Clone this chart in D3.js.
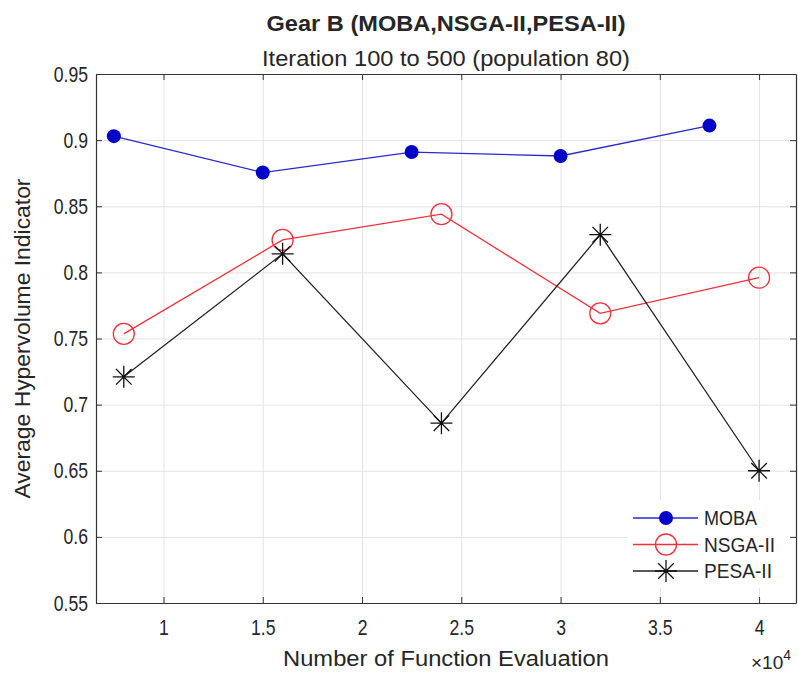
<!DOCTYPE html>
<html>
<head>
<meta charset="utf-8">
<script src="https://cdn.jsdelivr.net/npm/d3@7"></script>
<style>
  body { margin: 0; background: #fff; }
  svg text { font-family: "Liberation Sans", Arial, sans-serif; fill: #262626; }
</style>
</head>
<body>
<div class="chart"></div>
<script>
// data (x in units of 10^4 function evaluations)
var evalsMOBA = [0.75, 1.5, 2.25, 3.0, 3.75];
var evalsOther = [0.8, 1.6, 2.4, 3.2, 4.0];
var hvMOBA = [0.903, 0.8755, 0.891, 0.888, 0.911];
var hvNSGA = [0.7535, 0.8245, 0.844, 0.769, 0.796];
var hvPESA = [0.721, 0.814, 0.686, 0.8285, 0.650];
var seriesNames = ["MOBA", "NSGA-II", "PESA-II"];
var xTicks = [1, 1.5, 2, 2.5, 3, 3.5, 4];
var yTicks = [0.55, 0.6, 0.65, 0.7, 0.75, 0.8, 0.85, 0.9, 0.95];

var W = 798, H = 673;
var mLeft = 96, mRight = 796, mTop = 74, mBottom = 603;
var squeeze = 0.8;   // text in the picture is narrow

var svg = d3.select(".chart")
   .append("svg")
   .attr("width", W)
   .attr("height", H);

var x = d3.scaleLinear().domain([0.66, 4.186]).range([mLeft, mRight]);
var y = d3.scaleLinear().domain([0.55, 0.95]).range([mBottom, mTop]);

// grid
svg.append("g")
   .attr("transform", "translate(0," + mBottom + ")")
   .call(d3.axisBottom(x).tickValues(xTicks).tickSize(-(mBottom - mTop)).tickFormat(""))
   .call(function(g){ g.select(".domain").remove(); g.selectAll("line").attr("stroke", "#e3e3e3"); });
svg.append("g")
   .attr("transform", "translate(" + mLeft + ",0)")
   .call(d3.axisLeft(y).tickValues(yTicks).tickSize(-(mRight - mLeft)).tickFormat(""))
   .call(function(g){ g.select(".domain").remove(); g.selectAll("line").attr("stroke", "#e3e3e3"); });

// axes (ticks inward, all four sides)
var axisColor = "#333";
function styleAxis(g){
  g.select(".domain").attr("stroke", axisColor).attr("stroke-width", 1.2);
  g.selectAll(".tick line").attr("stroke", axisColor);
  g.selectAll(".tick text").attr("fill", "#262626").style("font-size", "22px")
   .attr("transform", "scale(" + squeeze + ",1)");
}
svg.append("g")
   .attr("transform", "translate(0," + mBottom + ")")
   .call(d3.axisBottom(x).tickValues(xTicks).tickSizeInner(-6).tickSizeOuter(0).tickPadding(16)
        .tickFormat(d3.format("")))
   .call(styleAxis);
svg.append("g")
   .attr("transform", "translate(0," + mTop + ")")
   .call(d3.axisTop(x).tickValues(xTicks).tickSizeInner(-6).tickSizeOuter(0).tickFormat(""))
   .call(styleAxis);
svg.append("g")
   .attr("transform", "translate(" + mLeft + ",0)")
   .call(d3.axisLeft(y).tickValues(yTicks).tickSizeInner(-6).tickSizeOuter(0).tickPadding(8)
        .tickFormat(function(d){ return String(+d.toFixed(2)); }))
   .call(styleAxis);
svg.append("g")
   .attr("transform", "translate(" + mRight + ",0)")
   .call(d3.axisRight(y).tickValues(yTicks).tickSizeInner(-6).tickSizeOuter(0).tickFormat(""))
   .call(styleAxis);

// tick labels are squeezed horizontally, so undo the scale on their x position
svg.selectAll(".tick text").each(function(){
  var t = d3.select(this);
  t.attr("x", (+t.attr("x") || 0) / squeeze);
});

// series
var line = d3.line().x(function(d){ return x(d[0]); }).y(function(d){ return y(d[1]); });
var mobaPts = d3.zip(evalsMOBA, hvMOBA);
var nsgaPts = d3.zip(evalsOther, hvNSGA);
var pesaPts = d3.zip(evalsOther, hvPESA);

svg.append("path").datum(mobaPts).attr("d", line)
   .attr("fill", "none").attr("stroke", "#2a2ad0").attr("stroke-width", 1.3);
svg.append("path").datum(nsgaPts).attr("d", line)
   .attr("fill", "none").attr("stroke", "#f0303a").attr("stroke-width", 1.3);
svg.append("path").datum(pesaPts).attr("d", line)
   .attr("fill", "none").attr("stroke", "#222").attr("stroke-width", 1.3);

function asterisk(s){
  var d = s * 0.707;
  return "M" + (-s) + ",0L" + s + ",0M0," + (-s) + "L0," + s +
         "M" + (-d) + "," + (-d) + "L" + d + "," + d +
         "M" + (-d) + "," + d + "L" + d + "," + (-d);
}

svg.selectAll(".moba").data(mobaPts).enter().append("circle")
   .attr("cx", function(d){ return x(d[0]); }).attr("cy", function(d){ return y(d[1]); })
   .attr("r", 7).attr("fill", "#0000c8");
svg.selectAll(".nsga").data(nsgaPts).enter().append("circle")
   .attr("cx", function(d){ return x(d[0]); }).attr("cy", function(d){ return y(d[1]); })
   .attr("r", 10.5).attr("fill", "none").attr("stroke", "#f0303a").attr("stroke-width", 1.3);
svg.selectAll(".pesa").data(pesaPts).enter().append("path")
   .attr("transform", function(d){ return "translate(" + x(d[0]) + "," + y(d[1]) + ")"; })
   .attr("d", asterisk(11)).attr("fill", "none").attr("stroke", "#111").attr("stroke-width", 1.3);

// legend
var lg = svg.append("g").attr("transform", "translate(628,500)");
lg.append("rect").attr("width", 162).attr("height", 88).attr("fill", "#fff");
var legColors = ["#2a2ad0", "#f0303a", "#222"];
var legWidths = [53, 71, 68];
seriesNames.forEach(function(name, i){
  var yy = 18 + i * 26.5;
  lg.append("line").attr("x1", 5).attr("x2", 70).attr("y1", yy).attr("y2", yy)
    .attr("stroke", legColors[i]).attr("stroke-width", 1.3);
  if (i == 0) lg.append("circle").attr("cx", 38).attr("cy", yy).attr("r", 7).attr("fill", "#0000c8");
  else if (i == 1) lg.append("circle").attr("cx", 38).attr("cy", yy).attr("r", 10.5)
    .attr("fill", "none").attr("stroke", "#f0303a").attr("stroke-width", 1.3);
  else lg.append("path").attr("transform", "translate(38," + yy + ")").attr("d", asterisk(11))
    .attr("fill", "none").attr("stroke", "#111").attr("stroke-width", 1.3);
  lg.append("text").attr("x", 76).attr("y", yy + 7).style("font-size", "20px")
    .attr("textLength", legWidths[i]).attr("lengthAdjust", "spacingAndGlyphs").text(name);
});

// titles and labels
var cx = (mLeft + mRight) / 2;
svg.append("text").attr("x", cx).attr("y", 31).attr("text-anchor", "middle")
   .style("font-size", "22px").style("font-weight", "bold")
   .attr("textLength", 359).attr("lengthAdjust", "spacingAndGlyphs")
   .text("Gear B (MOBA,NSGA-II,PESA-II)");
svg.append("text").attr("x", cx).attr("y", 66).attr("text-anchor", "middle")
   .style("font-size", "22px")
   .attr("textLength", 368).attr("lengthAdjust", "spacingAndGlyphs")
   .text("Iteration 100 to 500 (population 80)");
svg.append("text").attr("x", cx).attr("y", 666).attr("text-anchor", "middle")
   .style("font-size", "22px")
   .attr("textLength", 326).attr("lengthAdjust", "spacingAndGlyphs")
   .text("Number of Function Evaluation");
svg.append("text").attr("transform", "translate(30," + ((mTop + mBottom) / 2) + ") rotate(-90)")
   .attr("text-anchor", "middle").style("font-size", "22px")
   .attr("textLength", 320).attr("lengthAdjust", "spacingAndGlyphs")
   .text("Average Hypervolume Indicator");
var ex = svg.append("text").attr("x", 791).attr("y", 669).attr("text-anchor", "end").style("font-size", "19px");
ex.append("tspan").text("\u00d710");
ex.append("tspan").attr("dy", -9).style("font-size", "14px").text("4");
</script>
</body>
</html>
